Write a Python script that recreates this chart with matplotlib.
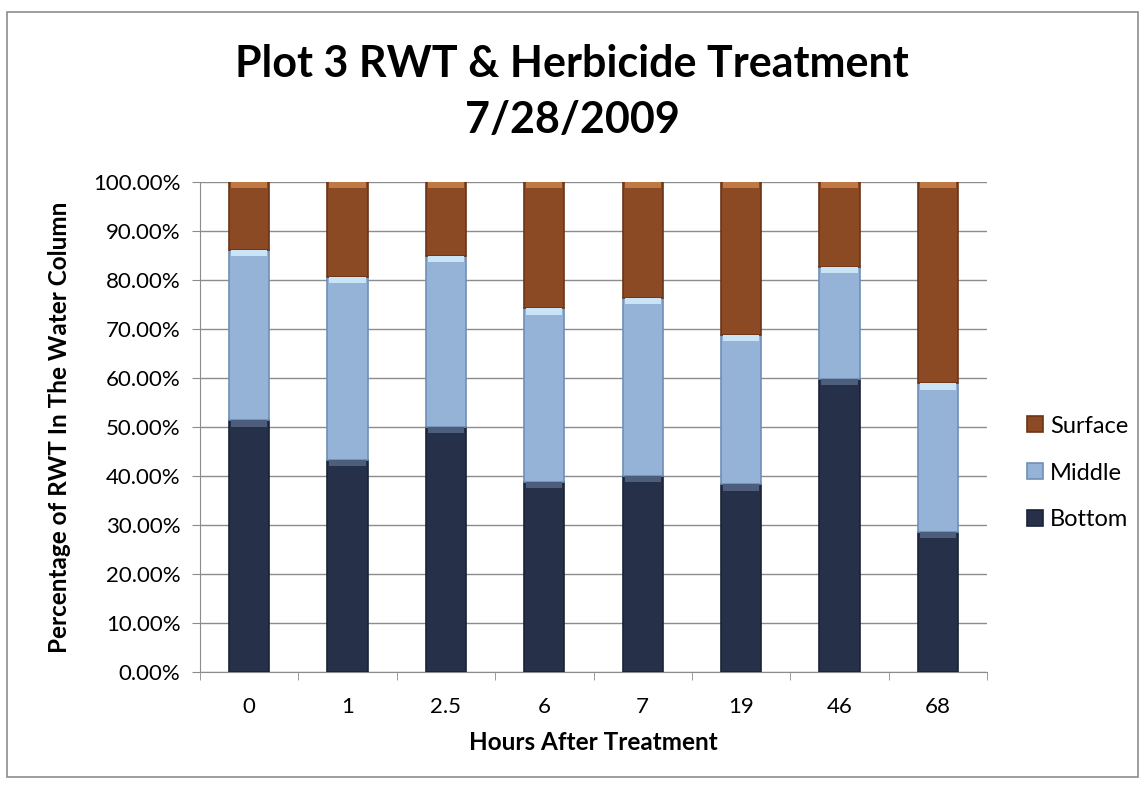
import numpy as np
import matplotlib.pyplot as plt
from matplotlib.patches import Rectangle
from matplotlib.ticker import FuncFormatter

plt.rcParams['font.family'] = ['Lato', 'DejaVu Sans']

hours = ['0', '1', '2.5', '6', '7', '19', '46', '68']
bottom = [51.4, 43.3, 50.1, 38.8, 40.0, 38.3, 59.8, 28.6]
middle = [34.7, 37.4, 34.8, 35.4, 36.4, 30.5, 22.9, 30.3]
surface = [13.9, 19.3, 15.1, 25.8, 23.6, 31.2, 17.3, 41.1]

fig = plt.figure(figsize=(11.44, 7.89), dpi=100)
# outer chart frame
fig.patches.append(Rectangle((0.0061, 0.0152), 0.9886, 0.9696, transform=fig.transFigure,
                             fill=False, edgecolor='#8c8c8c', linewidth=1.2))
ax = fig.add_axes([0.1748, 0.1483, 0.688, 0.621])

x = np.arange(len(hours))
w = 0.41
b = np.array(bottom)
m = np.array(middle)
s = np.array(surface)
ax.bar(x, b, w, color='#263149', edgecolor='#1a2236', linewidth=1.2, label='Bottom', zorder=3)
ax.bar(x, m, w, bottom=b, color='#95b3d7', edgecolor='#6f8fb8', linewidth=1.2, label='Middle', zorder=3)
ax.bar(x, s, w, bottom=b + m, color='#8b4a24', edgecolor='#6b3516', linewidth=1.2, label='Surface', zorder=3)

# bevel highlight at the top of each segment
hl = 1.3
ax.bar(x, hl, w * 0.9, bottom=b - hl, color='#4c5e7c', linewidth=0, zorder=4)
ax.bar(x, hl, w * 0.9, bottom=b + m - hl, color='#c9e4f6', linewidth=0, zorder=4)
ax.bar(x, hl, w * 0.9, bottom=b + m + s - hl, color='#c07844', linewidth=0, zorder=4)

ax.set_ylim(0, 100)
ax.set_xlim(-0.5, len(hours) - 0.5)
ax.set_yticks(np.arange(0, 101, 10))
ax.yaxis.set_major_formatter(FuncFormatter(lambda v, p: '%.2f%%' % v))
ax.set_xticks(x)
ax.set_xticklabels(hours)
ax.set_xticks(np.arange(-0.5, len(hours), 1), minor=True)
ax.tick_params(axis='x', which='major', length=0, labelsize=16, pad=18)
ax.tick_params(axis='x', which='minor', length=6, color='#8c8c8c', direction='out')
ax.tick_params(axis='y', length=6, color='#8c8c8c', labelsize=16, pad=8)
ax.yaxis.grid(True, color='#8c8c8c', linewidth=1, zorder=0)
ax.set_axisbelow(True)
for sp in ['top', 'right']:
    ax.spines[sp].set_visible(False)
for sp in ['left', 'bottom']:
    ax.spines[sp].set_color('#8c8c8c')

ax.set_xlabel('Hours After Treatment', fontsize=17.5, fontweight='bold', labelpad=10)
ax.set_ylabel('Percentage of RWT In The Water Column', fontsize=17.5, fontweight='bold', labelpad=16)
fig.text(0.5, 1 - 77 / 789, 'Plot 3 RWT & Herbicide Treatment', ha='center', va='baseline',
         fontsize=31, fontweight='bold')
fig.text(0.5, 1 - 133 / 789, '7/28/2009', ha='center', va='baseline',
         fontsize=31, fontweight='bold')

handles, labels = ax.get_legend_handles_labels()
fig.legend(handles[::-1], labels[::-1], loc='center left', bbox_to_anchor=(0.8977, 1 - 473 / 789),
           frameon=False, fontsize=17, handlelength=0.68, handleheight=0.68, labelspacing=1.1,
           handletextpad=0.3, borderpad=0, borderaxespad=0)

fig.savefig('out.png', dpi=100)
